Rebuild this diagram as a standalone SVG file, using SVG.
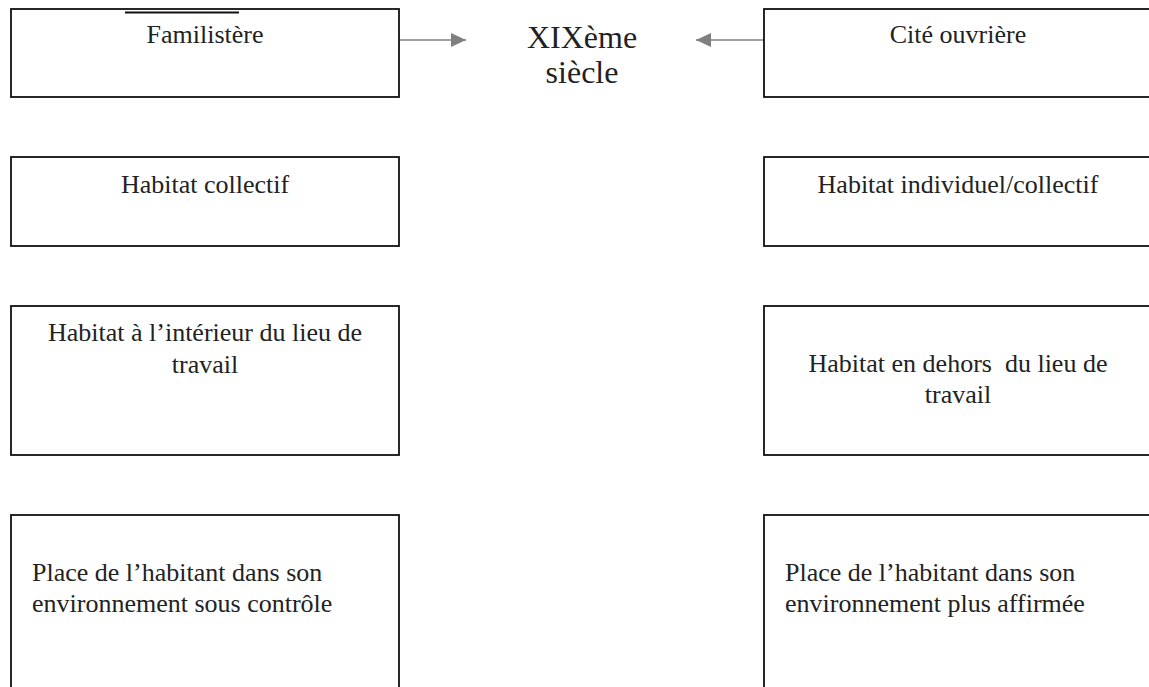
<svg xmlns="http://www.w3.org/2000/svg" width="1149" height="687" viewBox="0 0 1149 687">
<style>
.box{fill:#fff;stroke:#111;stroke-width:1.8}
.t{font-family:"Liberation Serif","Times New Roman",serif;font-size:26px;fill:#222}
.c{text-anchor:middle}
.big{font-size:32px}
.arr{stroke:#808080;stroke-width:1.6;fill:none}
</style>
<defs>
<marker id="ah" markerWidth="16" markerHeight="14" refX="15" refY="7" orient="auto" markerUnits="userSpaceOnUse">
<path d="M0,0 L15,7 L0,14 Z" fill="#808080"/>
</marker>
</defs>
<rect width="1149" height="687" fill="#fff"/>
<g id="connectors">
<line class="arr" x1="399" y1="40" x2="466" y2="40" marker-end="url(#ah)"/>
<line class="arr" x1="764" y1="40" x2="696" y2="40" marker-end="url(#ah)"/>
</g>
<g id="familistere">
<rect class="box" x="11" y="9" width="388" height="88"/>
<line x1="125" y1="12.5" x2="239" y2="12.5" stroke="#111" stroke-width="2"/>
<text class="t c" x="205" y="43">Familistère</text>
</g>
<g id="xix">
<text class="t c big" x="582" y="48">XIXème</text>
<text class="t c big" x="582" y="83">siècle</text>
</g>
<g id="cite">
<rect class="box" x="764" y="9" width="390" height="88"/>
<text class="t c" x="958" y="43">Cité ouvrière</text>
</g>
<g id="habitat-collectif">
<rect class="box" x="11" y="157" width="388" height="89"/>
<text class="t c" x="205" y="193">Habitat collectif</text>
</g>
<g id="habitat-indiv">
<rect class="box" x="764" y="157" width="390" height="89"/>
<text class="t c" x="958" y="193">Habitat individuel/collectif</text>
</g>
<g id="habitat-interieur">
<rect class="box" x="11" y="306" width="388" height="149"/>
<text class="t c" x="205" y="341">Habitat à l’intérieur du lieu de</text>
<text class="t c" x="205" y="373">travail</text>
</g>
<g id="habitat-dehors">
<rect class="box" x="764" y="306" width="390" height="149"/>
<text class="t c" x="958" y="372" xml:space="preserve">Habitat en dehors  du lieu de</text>
<text class="t c" x="958" y="403">travail</text>
</g>
<g id="place-controle">
<rect class="box" x="11" y="515" width="388" height="200"/>
<text class="t" x="32" y="581">Place de l’habitant dans son</text>
<text class="t" x="32" y="612">environnement sous contrôle</text>
</g>
<g id="place-affirmee">
<rect class="box" x="764" y="515" width="390" height="200"/>
<text class="t" x="785" y="581">Place de l’habitant dans son</text>
<text class="t" x="785" y="612">environnement plus affirmée</text>
</g>
</svg>
